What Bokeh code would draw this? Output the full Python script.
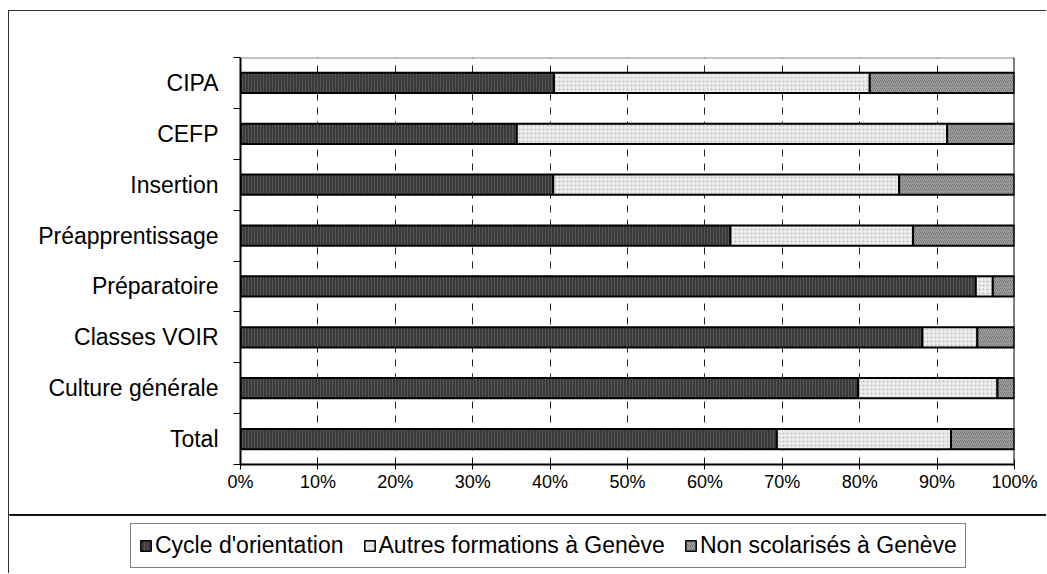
from bokeh.plotting import figure
from bokeh.models import (ColumnDataSource, FixedTicker, Range1d, Legend, LegendItem,
                          Span, PrintfTickFormatter)
from bokeh.embed import file_html
from bokeh.resources import INLINE

# ---- data (percentages) ----
categories = ["CIPA", "CEFP", "Insertion", "Préapprentissage", "Préparatoire",
              "Classes VOIR", "Culture générale", "Total"]
cycle = [40.5, 35.7, 40.4, 63.3, 95.0, 88.1, 79.8, 69.3]
autres = [40.8, 55.6, 44.7, 23.6, 2.2, 7.1, 18.0, 22.5]
non_scol = [18.7, 8.7, 14.9, 13.1, 2.8, 4.8, 2.2, 8.2]
series_names = ["Cycle d'orientation", "Autres formations à Genève", "Non scolarisés à Genève"]
x_ticks = list(range(0, 101, 10))
grid_ticks = list(range(10, 100, 10))

FONT = "Liberation Sans"
fills = ["#3a3a3a", "#ececec", "#a6a6a6"]
hatches = ["vertical_line", "dot", "right_diagonal_line"]
hatch_colors = ["#565656", "#bdbdbd", "#767676"]
hatch_scales = [3, 4, 4]

n = len(categories)
ypos = [n - i - 0.5 for i in range(n)]
src = ColumnDataSource(dict(y=ypos, cycle=cycle, autres=autres, non=non_scol))

p = figure(width=1038, height=504, output_backend="svg", toolbar_location=None,
           x_range=Range1d(0, 100), y_range=Range1d(0, n),
           min_border_left=231, min_border_right=33, min_border_top=46,
           min_border_bottom=51)
p.outline_line_color = None
p.background_fill_color = "white"
p.border_fill_color = "white"
p.styles = {"border-left": "1px solid #333", "border-top": "1px solid #333",
            "margin-left": "8px", "margin-top": "10px"}

# grid
p.xgrid.ticker = FixedTicker(ticks=grid_ticks)
p.xgrid.grid_line_color = "#222222"
p.xgrid.grid_line_dash = "7 7"
p.xgrid.grid_line_width = 1
p.ygrid.visible = False

p.add_layout(Span(location=n, dimension="width", line_color="#888888", line_width=2))
p.add_layout(Span(location=100, dimension="height", line_color="black", line_width=2))

rs = p.hbar_stack(["cycle", "autres", "non"], y="y", height=0.4, source=src,
                  fill_color=fills, hatch_pattern=hatches, hatch_color=hatch_colors,
                  hatch_scale=hatch_scales, hatch_weight=[1, 1, 1],
                  line_color="black", line_width=2)

# x axis
xa = p.xaxis[0]
xa.ticker = FixedTicker(ticks=x_ticks)
xa.formatter = PrintfTickFormatter(format="%d%%")
xa.major_tick_in = 5
xa.major_tick_out = 5
xa.minor_tick_line_color = None
xa.axis_line_width = 2
xa.axis_line_color = "black"
xa.major_tick_line_color = "black"
xa.major_label_text_font = FONT
xa.major_label_text_font_size = "18px"
xa.major_label_text_color = "black"
xa.major_label_standoff = 2

# y axis
ya = p.yaxis[0]
ya.ticker = FixedTicker(ticks=ypos, minor_ticks=list(range(n + 1)))
ya.major_label_overrides = {y: c for y, c in zip(ypos, categories)}
ya.major_tick_in = 0
ya.major_tick_out = 0
ya.minor_tick_in = 0
ya.minor_tick_out = 7
ya.minor_tick_line_color = "black"
ya.axis_line_width = 2
ya.axis_line_color = "black"
ya.major_label_text_font = FONT
ya.major_label_text_font_size = "23px"
ya.major_label_text_color = "black"
ya.major_label_standoff = 15

# ---- legend strip: its own root so that its frame spans the whole strip ----
lf = figure(width=1038, height=59, output_backend="svg", toolbar_location=None,
            x_range=Range1d(0, 1), y_range=Range1d(-1000, -999),
            x_axis_location=None, y_axis_location=None,
            min_border=0, min_border_left=0, min_border_right=0,
            min_border_top=0, min_border_bottom=0)
lf.outline_line_color = None
lf.xgrid.visible = False
lf.ygrid.visible = False
lf.title.visible = False
lf.border_fill_color = "white"
lf.background_fill_color = "white"
lf.styles = {"border-left": "1px solid #333", "border-top": "none",
             "margin-left": "8px", "margin-top": "0px"}
# same series drawn here only as legend proxies (far outside this strip's view)
leg_rs = lf.hbar_stack(["cycle", "autres", "non"], y="y", height=0.4, source=src,
                       fill_color=fills, hatch_pattern=hatches, hatch_color=hatch_colors,
                       hatch_scale=hatch_scales, hatch_weight=[1, 1, 1],
                       line_color="black", line_width=1.5)
legend = Legend(items=[LegendItem(label=nm, renderers=[r]) for nm, r in zip(series_names, leg_rs)],
                orientation="horizontal", location=(121, 5),
                border_line_color="black", border_line_width=1,
                background_fill_color="white", background_fill_alpha=1,
                label_text_font=FONT, label_text_font_size="23px",
                label_text_color="black", label_height=20,
                glyph_width=13, glyph_height=13, label_standoff=3,
                spacing=19, padding=8, margin=0)
lf.add_layout(legend, "center")

open("out.html", "w").write(file_html([p, lf], INLINE))
